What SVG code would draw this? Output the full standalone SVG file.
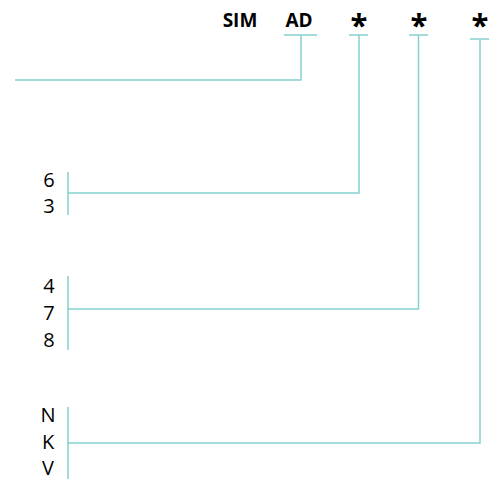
<svg xmlns="http://www.w3.org/2000/svg" width="493" height="479" viewBox="0 0 493 479">
<style>
.ln{stroke:#86d1d1;stroke-width:1.5;fill:none}
.h{font-family:"Open Sans","Noto Sans",sans-serif;font-weight:bold;font-size:19px;fill:#000;text-anchor:middle}
.a{font-family:"Open Sans","Noto Sans",sans-serif;font-weight:bold;font-size:31px;fill:#000;text-anchor:middle}
.t{font-family:"Open Sans","Noto Sans",sans-serif;font-size:20px;fill:#000;text-anchor:middle}
</style>
<rect width="493" height="479" fill="#fff"/>
<g id="header">
<text class="h" x="240" y="27">SIM</text>
<text class="h" x="299" y="27">AD</text>
<text class="a" x="359" y="36">*</text>
<text class="a" x="419" y="36">*</text>
<text class="a" x="480" y="36">*</text>
</g>
<g id="group1">
<text class="t" x="49" y="187">6</text>
<text class="t" x="49" y="213">3</text>
</g>
<g id="group2">
<text class="t" x="49" y="293">4</text>
<text class="t" x="49" y="320">7</text>
<text class="t" x="49" y="347">8</text>
</g>
<g id="group3">
<text class="t" x="48" y="422">N</text>
<text class="t" x="48" y="449">K</text>
<text class="t" x="48" y="475">V</text>
</g>
<g id="connectors">
<path class="ln" d="M284 35H317M301 35V80H15"/>
<path class="ln" d="M349 35H368M359 35V193H68M68 172V215"/>
<path class="ln" d="M409 35H428M418.5 35V309H68M68 276V350"/>
<path class="ln" d="M470 39H489M480 39V443H68M68 407V479"/>
</g>
</svg>
